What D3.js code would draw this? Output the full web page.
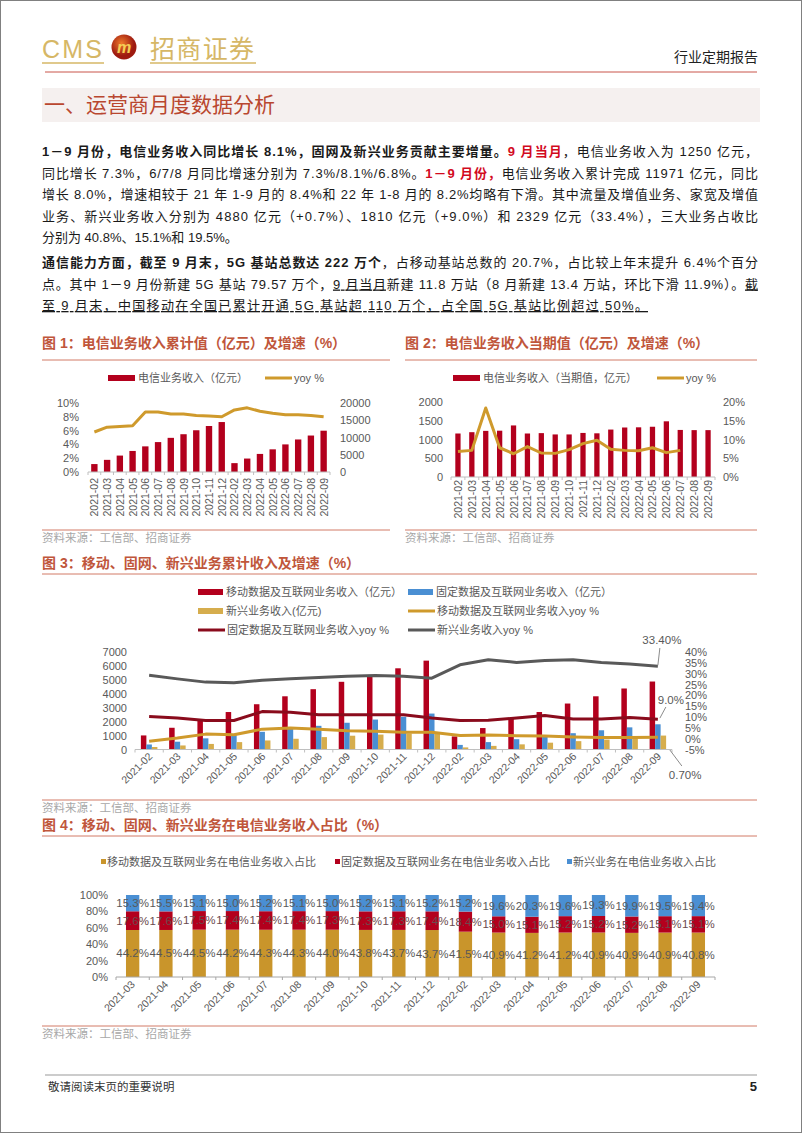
<!DOCTYPE html>
<html>
<head>
<meta charset="utf-8">
<script src="https://cdn.jsdelivr.net/npm/d3@7"></script>
<style>
  body { margin: 0; background: #fff; }
  svg { display: block; }
  text { font-family: "Liberation Sans", "Noto Sans CJK SC", sans-serif; }
</style>
</head>
<body>
<svg width="802" height="1133"></svg>
<script>
// ---- data ----
const months = ["2021-02","2021-03","2021-04","2021-05","2021-06","2021-07","2021-08","2021-09","2021-10","2021-11","2021-12",
                "2022-02","2022-03","2022-04","2022-05","2022-06","2022-07","2022-08","2022-09"];
// fig 1: cumulative revenue (亿元) and yoy %
const cumRevenue = [2300,3520,4760,6100,7430,8670,9900,10950,12100,13330,14480,2570,3900,5240,6570,8000,9430,10570,11971];
const cumYoy = [5.8,6.5,6.6,6.7,8.7,8.7,8.4,8.4,8.2,8.1,8.0,9.0,9.3,8.8,8.5,8.3,8.3,8.2,8.0];
// fig 2: monthly revenue and yoy % (yoy stops at 2022-07)
const monthRevenue = [1160,1195,1230,1235,1375,1160,1170,1135,1135,1175,1165,1265,1320,1325,1340,1485,1255,1250,1250];
const monthYoy = [6.8,7.1,18.4,7.8,6.2,8.1,6.4,6.3,7.3,8.9,9.8,7.4,7.1,7.0,7.8,6.5,7.1];
// fig 3: segment cumulative revenue (亿元) and yoy %
const mobileRev = [1010,1560,2110,2690,3250,3820,4330,4860,5220,5830,6380,940,1540,2210,2690,3300,3820,4380,4880];
const fixedRev = [360,560,800,1030,1270,1480,1700,1920,2150,2350,2580,330,530,740,950,1170,1380,1590,1810];
const emergingRev = [180,290,400,530,650,770,890,990,1070,1150,1230,150,260,370,490,600,710,820,1000];
const mobileYoy = [-1.2,0.3,2.1,1.8,4.4,4.9,4.4,3.7,3.4,3.0,3.0,1.5,1.7,1.4,1.2,0.8,0.5,0.5,0.7];
const fixedYoy = [10.2,9.5,8.4,8.4,12.5,12.2,11.0,11.0,11.0,11.0,9.5,8.4,8.5,9.5,10.7,9.1,9.1,9.8,9.0];
const emergingYoy = [29.3,27.6,26.1,25.8,27.0,27.7,28.2,28.8,29.1,28.8,27.9,34.1,36.4,35.2,36.1,36.4,35.2,34.5,33.4];
// fig 4: share of telecom revenue (%)
const shareMonths = months.slice(1);
const mobileShare = [44.2,44.5,44.5,44.2,44.3,44.3,44.0,43.8,43.7,43.7,41.5,40.9,41.2,41.2,40.9,40.9,40.9,40.8];
const fixedShare = [17.6,17.6,17.5,17.4,17.4,17.4,17.3,17.3,17.3,17.4,18.4,15.0,15.1,15.2,15.2,15.2,15.1,15.1];
const emergingShare = [15.3,15.5,15.1,15.0,15.2,15.1,15.0,15.2,15.1,15.2,15.2,19.6,20.3,19.6,19.3,19.9,19.5,19.4];

const svg = d3.select("svg");
const GREY = "#595959";
const RED = "#b3001d";
const GOLD_LINE = "#cf9a2c";
const BLUE = "#4a8fd3";
const GOLD_BAR = "#d6ad4d";
const DARK_RED = "#8a0b1c";
const GOLD4 = "#c9952b";
const TITLE = "#c0563b";
const RULE = "#d27a66";

// page border
svg.append("rect").attr("x", 0.5).attr("y", 0.5).attr("width", 801).attr("height", 1132)
  .attr("fill", "none").attr("stroke", "#808080");

// ---- header ----
svg.append("text").attr("x", 42).attr("y", 58).attr("font-size", 25)
  .attr("font-family", '"Liberation Sans Narrow","Liberation Sans",sans-serif')
  .attr("textLength", 60).attr("fill", "#d6b766").text("CMS");
const grad = svg.append("defs").append("radialGradient").attr("id", "logo").attr("cx", "40%").attr("cy", "35%");
grad.append("stop").attr("offset", "0%").attr("stop-color", "#ef7a2a");
grad.append("stop").attr("offset", "100%").attr("stop-color", "#9e1a10");
svg.append("circle").attr("cx", 124).attr("cy", 47).attr("r", 12.5).attr("fill", "url(#logo)");
svg.append("text").attr("x", 124).attr("y", 53).attr("text-anchor", "middle").attr("font-size", 16)
  .attr("font-weight", "bold").attr("font-style", "italic").attr("fill", "#f5cf55").text("m");
svg.append("text").attr("x", 150).attr("y", 58).attr("font-size", 25).attr("textLength", 104)
  .attr("fill", "#d6b766").text("招商证券");
svg.append("line").attr("x1", 42).attr("x2", 104).attr("y1", 63).attr("y2", 63).attr("stroke", "#d6b766").attr("stroke-width", 1.5);
svg.append("line").attr("x1", 150).attr("x2", 256).attr("y1", 63).attr("y2", 63).attr("stroke", "#d6b766").attr("stroke-width", 1.5);
svg.append("text").attr("x", 758).attr("y", 62).attr("text-anchor", "end").attr("font-size", 14)
  .attr("fill", "#222").text("行业定期报告");
svg.append("line").attr("x1", 45).attr("x2", 757).attr("y1", 72).attr("y2", 72).attr("stroke", "#c9544a");

svg.append("rect").attr("x", 42).attr("y", 88).attr("width", 718).attr("height", 34).attr("fill", "#f5f0ef");
svg.append("text").attr("x", 44).attr("y", 112).attr("font-size", 21).attr("fill", "#b9472f").text("一、运营商月度数据分析");

// ---- body text ----
function textLine(y, parts, width) {
  const t = svg.append("text").attr("x", 42).attr("y", y).attr("font-size", 13).attr("fill", "#1a1a1a");
  if (width) t.attr("textLength", width).attr("lengthAdjust", "spacing");
  parts.forEach(p => {
    const s = t.append("tspan").text(p[0]);
    if (p[1] === "b") s.attr("font-weight", "bold");
    if (p[1] === "r") s.attr("font-weight", "bold").attr("fill", "#d20a1e");
    if (p[1] === "u") s.attr("text-decoration", "underline");
  });
}
textLine(156, [["1－9 月份，电信业务收入同比增长 8.1%，固网及新兴业务贡献主要增量。", "b"], ["9 月当月", "r"], ["，电信业务收入为 1250 亿元，"]], 716);
textLine(177.5, [["同比增长 7.3%，6/7/8 月同比增速分别为 7.3%/8.1%/6.8%。"], ["1－9 月份，", "r"], ["电信业务收入累计完成 11971 亿元，同比"]], 716);
textLine(199, [["增长 8.0%，增速相较于 21 年 1-9 月的 8.4%和 22 年 1-8 月的 8.2%均略有下滑。其中流量及增值业务、家宽及增值"]], 716);
textLine(220.5, [["业务、新兴业务收入分别为 4880 亿元（+0.7%）、1810 亿元（+9.0%）和 2329 亿元（33.4%），三大业务占收比"]], 716);
textLine(242, [["分别为 40.8%、15.1%和 19.5%。"]], 0);
textLine(267, [["通信能力方面，截至 9 月末，5G 基站总数达 222 万个", "b"], ["，占移动基站总数的 20.7%，占比较上年末提升 6.4%个百分"]], 716);
textLine(288.5, [["点。其中 1－9 月份新建 5G 基站 79.57 万个，"], ["9 月当月", "u"], ["新建 11.8 万站（8 月新建 13.4 万站，环比下滑 11.9%）。"], ["截", "u"]], 716);
textLine(310, [["至 9 月末，中国移动在全国已累计开通 5G 基站超 110 万个，占全国 5G 基站比例超过 50%。", "u"]], 606);

// ---- helpers ----
function title(x, y, x2, txt, ruleY) {
  svg.append("text").attr("x", x).attr("y", y).attr("font-size", 14).attr("font-weight", "bold")
    .attr("fill", TITLE).text(txt);
  svg.append("line").attr("x1", x).attr("x2", x2).attr("y1", ruleY).attr("y2", ruleY).attr("stroke", RULE);
}
function source(x, x2, ruleY) {
  svg.append("line").attr("x1", x).attr("x2", x2).attr("y1", ruleY).attr("y2", ruleY).attr("stroke", RULE);
  svg.append("text").attr("x", x).attr("y", ruleY + 12).attr("font-size", 11.5).attr("fill", "#a8a8a8")
    .text("资料来源：工信部、招商证券");
}
function styleAxis(g) {
  g.select(".domain").remove();
  g.selectAll("text").attr("font-size", 11).attr("fill", GREY)
    .attr("font-family", '"Liberation Sans",sans-serif');
}
function baseAxis(x, y, color) {
  const [a, b] = x.range();
  const g = svg.append("g");
  g.append("line").attr("x1", a).attr("x2", b).attr("y1", y).attr("y2", y).attr("stroke", color);
  g.selectAll("line.t").data(d3.range(x.domain().length + 1)).join("line").attr("class", "t")
    .attr("x1", i => a + i * x.step()).attr("x2", i => a + i * x.step())
    .attr("y1", y).attr("y2", y + 3).attr("stroke", color);
}
function xLabels(x, y0, angle, dx, size) {
  svg.append("g").selectAll("text").data(x.domain()).join("text")
    .attr("transform", d => `translate(${x(d) + x.bandwidth() / 2 + dx},${y0}) rotate(${angle})`)
    .attr("text-anchor", "end").attr("font-size", size).attr("fill", GREY).text(d => d);
}
function legendRect(x, y, color, txt, w, h) {
  svg.append("rect").attr("x", x).attr("y", y - h / 2).attr("width", w).attr("height", h).attr("fill", color);
  svg.append("text").attr("x", x + w + 3).attr("y", y + 4).attr("font-size", 11).attr("fill", GREY).text(txt);
}
function legendLine(x, y, color, txt, serif) {
  svg.append("line").attr("x1", x).attr("x2", x + 27).attr("y1", y).attr("y2", y)
    .attr("stroke", color).attr("stroke-width", 3);
  const t = svg.append("text").attr("x", x + 29).attr("y", y + 4).attr("font-size", 11).attr("fill", GREY).text(txt);
  if (serif) t.attr("font-family", '"Liberation Serif","Noto Sans CJK SC",serif');
}
const plain = d3.format("d");

// ---- fig 1 ----
title(42, 348, 390, "图 1：电信业务收入累计值（亿元）及增速（%）", 360);
legendRect(108, 378, RED, "电信业务收入（亿元）", 27, 6);
legendLine(265, 378, GOLD_LINE, "yoy %", true);
const x1 = d3.scaleBand().domain(months).range([88, 330]).paddingInner(0.5).paddingOuter(0.25);
const y1L = d3.scaleLinear().domain([0, 10]).range([472, 403]);
const y1R = d3.scaleLinear().domain([0, 20000]).range([472, 403]);
svg.append("g").attr("transform", "translate(79,0)")
  .call(d3.axisLeft(y1L).tickValues([0, 2, 4, 6, 8, 10]).tickFormat(d => d + "%").tickSize(0).tickPadding(0))
  .call(styleAxis);
svg.append("g").attr("transform", "translate(340,0)")
  .call(d3.axisRight(y1R).tickValues([0, 5000, 10000, 15000, 20000]).tickFormat(plain).tickSize(0).tickPadding(0))
  .call(styleAxis);
svg.append("g").selectAll("rect").data(cumRevenue).join("rect")
  .attr("x", (d, i) => x1(months[i])).attr("width", x1.bandwidth())
  .attr("y", d => y1R(d)).attr("height", d => y1R(0) - y1R(d)).attr("fill", RED);
baseAxis(x1, 472, "#bfbfbf");
svg.append("path").datum(cumYoy)
  .attr("d", d3.line().x((d, i) => x1(months[i]) + x1.bandwidth() / 2).y(d => y1L(d)))
  .attr("fill", "none").attr("stroke", GOLD_LINE).attr("stroke-width", 3).attr("stroke-linejoin", "round");
xLabels(x1, 478, -90, 4, 10.5);
source(42, 390, 530);

// ---- fig 2 ----
title(405, 348, 757, "图 2：电信业务收入当期值（亿元）及增速（%）", 360);
legendRect(453, 378, RED, "电信业务收入（当期值，亿元）", 27, 6);
legendLine(657, 378, GOLD_LINE, "yoy %", true);
const x2 = d3.scaleBand().domain(months).range([451, 715]).paddingInner(0.62).paddingOuter(0.31);
const y2L = d3.scaleLinear().domain([0, 2000]).range([477, 402]);
const y2R = d3.scaleLinear().domain([0, 20]).range([477, 402]);
svg.append("g").attr("transform", "translate(443,0)")
  .call(d3.axisLeft(y2L).tickValues([0, 500, 1000, 1500, 2000]).tickFormat(plain).tickSize(0).tickPadding(0))
  .call(styleAxis);
svg.append("g").attr("transform", "translate(723,0)")
  .call(d3.axisRight(y2R).tickValues([0, 5, 10, 15, 20]).tickFormat(d => d + "%").tickSize(0).tickPadding(0))
  .call(styleAxis);
svg.append("g").selectAll("rect").data(monthRevenue).join("rect")
  .attr("x", (d, i) => x2(months[i])).attr("width", x2.bandwidth())
  .attr("y", d => y2L(d)).attr("height", d => y2L(0) - y2L(d)).attr("fill", RED);
baseAxis(x2, 477, "#bfbfbf");
svg.append("path").datum(monthYoy)
  .attr("d", d3.line().x((d, i) => x2(months[i]) + x2.bandwidth() / 2).y(d => y2R(d)))
  .attr("fill", "none").attr("stroke", GOLD_LINE).attr("stroke-width", 3).attr("stroke-linejoin", "round");
xLabels(x2, 480, -90, 4, 10.5);
source(405, 757, 530);

// ---- fig 3 ----
title(42, 568, 757, "图 3：移动、固网、新兴业务累计收入及增速（%）", 574);
legendRect(198, 592, RED, "移动数据及互联网业务收入（亿元）", 25, 6);
legendRect(408, 592, BLUE, "固定数据及互联网业务收入（亿元）", 25, 6);
legendRect(198, 611, GOLD_BAR, "新兴业务收入(亿元)", 25, 6);
legendLine(408, 611, GOLD_LINE, "移动数据及互联网业务收入yoy %", false);
legendLine(198, 630, DARK_RED, "固定数据及互联网业务收入yoy %", false);
legendLine(408, 630, GREY, "新兴业务收入yoy %", false);

const x3 = d3.scaleBand().domain(months).range([135, 672]);
const sub = d3.scaleBand().domain(["m", "f", "e"]).range([0, 16.5]);
const y3L = d3.scaleLinear().domain([0, 7000]).range([749.5, 652]);
const y3R = d3.scaleLinear().domain([-5, 40]).range([749.5, 652]);
svg.append("g").attr("transform", "translate(127,0)")
  .call(d3.axisLeft(y3L).tickValues(d3.range(0, 7001, 1000)).tickFormat(plain).tickSize(0).tickPadding(0))
  .call(styleAxis);
svg.append("g").attr("transform", "translate(685,0)")
  .call(d3.axisRight(y3R).tickValues(d3.range(-5, 41, 5)).tickFormat(d => d + "%").tickSize(0).tickPadding(0))
  .call(styleAxis);
const groups = [["m", mobileRev, RED], ["f", fixedRev, BLUE], ["e", emergingRev, GOLD_BAR]];
const off3 = (x3.bandwidth() - 16.5) / 2;
groups.forEach(([k, vals, c]) => {
  svg.append("g").selectAll("rect").data(vals).join("rect")
    .attr("x", (d, i) => x3(months[i]) + off3 + sub(k)).attr("width", sub.bandwidth())
    .attr("y", d => y3L(d)).attr("height", d => y3L(0) - y3L(d)).attr("fill", c);
});
baseAxis(x3, 749.5, "#bfbfbf");
const line3 = d3.line().x((d, i) => x3(months[i]) + x3.bandwidth() / 2).y(d => y3R(d));
[[emergingYoy, GREY], [fixedYoy, DARK_RED], [mobileYoy, GOLD_LINE]].forEach(([vals, c]) => {
  svg.append("path").datum(vals).attr("d", line3).attr("fill", "none")
    .attr("stroke", c).attr("stroke-width", 3).attr("stroke-linejoin", "round");
});
// end-point annotations
const lastX = x3(months[18]) + x3.bandwidth() / 2;
const ann = svg.append("g").attr("font-size", 11.5).attr("fill", GREY);
ann.append("line").attr("x1", lastX + 2).attr("y1", 648).attr("x2", lastX).attr("y2", y3R(emergingYoy[18]) - 1)
  .attr("stroke", "#8c8c8c");
ann.append("text").attr("x", lastX + 4).attr("y", 644).attr("text-anchor", "middle").text(emergingYoy[18].toFixed(2) + "%");
ann.append("line").attr("x1", lastX + 8).attr("y1", 707).attr("x2", lastX + 2).attr("y2", y3R(fixedYoy[18]) - 1)
  .attr("stroke", "#8c8c8c");
ann.append("text").attr("x", 684).attr("y", 704).attr("text-anchor", "end").text(fixedYoy[18].toFixed(1) + "%");
ann.append("line").attr("x1", lastX + 12).attr("y1", 750).attr("x2", lastX + 24).attr("y2", 766)
  .attr("stroke", "#8c8c8c");
ann.append("text").attr("x", lastX + 11).attr("y", 779).text(mobileYoy[18].toFixed(2) + "%");
xLabels(x3, 757, -45, 4, 10.5);
source(42, 757, 800);

// ---- fig 4 ----
title(42, 830, 757, "图 4：移动、固网、新兴业务在电信业务收入占比（%）", 836);
const leg4 = [["移动数据及互联网业务在电信业务收入占比", GOLD4, 101], ["固定数据及互联网业务在电信业务收入占比", RED, 335], ["新兴业务在电信业务收入占比", BLUE, 567]];
leg4.forEach(([t, c, x]) => {
  svg.append("rect").attr("x", x).attr("y", 859).attr("width", 5).attr("height", 5).attr("fill", c);
  svg.append("text").attr("x", x + 6).attr("y", 866).attr("font-size", 11).attr("fill", GREY).text(t);
});
const shareRows = shareMonths.map((m, i) => ({ month: m, mobile: mobileShare[i], fixed: fixedShare[i], emerging: emergingShare[i] }));
const keys4 = ["mobile", "fixed", "emerging"];
const colors4 = { mobile: GOLD4, fixed: RED, emerging: BLUE };
const stacked = d3.stack().keys(keys4).offset(d3.stackOffsetExpand)(shareRows);
const x4 = d3.scaleBand().domain(shareMonths).range([116, 715]).paddingInner(0.6).paddingOuter(0.3);
const y4 = d3.scaleLinear().domain([0, 1]).range([977, 895]);
svg.append("g").attr("transform", "translate(108,0)")
  .call(d3.axisLeft(y4).tickValues([0, 0.2, 0.4, 0.6, 0.8, 1]).tickFormat(d3.format(".0%")).tickSize(0).tickPadding(0))
  .call(styleAxis);
stacked.forEach(s => {
  svg.append("g").selectAll("rect").data(s).join("rect")
    .attr("x", d => x4(d.data.month)).attr("width", x4.bandwidth())
    .attr("y", d => y4(d[1])).attr("height", d => y4(d[0]) - y4(d[1])).attr("fill", colors4[s.key]);
});
baseAxis(x4, 977, "#a6a6a6");
stacked.forEach(s => {
  svg.append("g").selectAll("text").data(s).join("text")
    .attr("x", d => x4(d.data.month) + x4.bandwidth() / 2).attr("y", d => y4((d[0] + d[1]) / 2) + 4)
    .attr("text-anchor", "middle").attr("font-size", 11.5)
    .attr("fill", s.key === "fixed" ? "#6b4a4e" : GREY)
    .text(d => d.data[s.key].toFixed(1) + "%");
});
xLabels(x4, 985, -45, 3, 10.5);
source(42, 757, 1026);

// ---- footer ----
svg.append("line").attr("x1", 45).attr("x2", 757).attr("y1", 1075).attr("y2", 1075).attr("stroke", "#999");
svg.append("text").attr("x", 48).attr("y", 1091).attr("font-size", 11.5).attr("fill", "#333").text("敬请阅读末页的重要说明");
svg.append("text").attr("x", 757).attr("y", 1091).attr("text-anchor", "end").attr("font-size", 13)
  .attr("font-weight", "bold").attr("fill", "#222").text("5");
</script>
</body>
</html>
